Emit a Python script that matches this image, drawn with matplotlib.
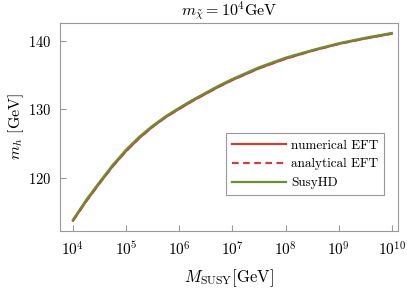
import matplotlib
matplotlib.use('Agg')
import matplotlib.pyplot as plt
import numpy as np

# log10 of M_SUSY in GeV
log_msusy = [4.0, 4.25, 4.5, 4.75, 5.0, 5.25, 5.5, 5.75, 6.0, 6.25, 6.5, 6.75,
             7.0, 7.5, 8.0, 8.5, 9.0, 9.5, 10.0]
# Higgs mass in GeV
mh_susyhd = [113.9, 116.8, 119.4, 121.9, 124.1, 126.0, 127.6, 129.0, 130.2, 131.35, 132.4, 133.45,
             134.4, 136.1, 137.5, 138.6, 139.6, 140.4, 141.1]
mh_numerical = [113.75, 116.6, 119.2, 121.7, 123.9, 125.8, 127.45, 128.85, 130.05, 131.2, 132.25, 133.3,
                134.25, 135.95, 137.35, 138.5, 139.5, 140.3, 141.0]
mh_analytical = [113.75, 116.6, 119.2, 121.7, 123.9, 125.8, 127.45, 128.85, 130.05, 131.2, 132.25, 133.3,
                 134.25, 135.95, 137.35, 138.5, 139.5, 140.3, 141.0]

plt.rcParams['font.family'] = 'serif'
plt.rcParams['font.serif'] = ['cmr10']
plt.rcParams['mathtext.fontset'] = 'cm'
plt.rcParams['axes.formatter.use_mathtext'] = True

red = '#c4443c'
green = '#6b8e35'
gray = '#999999'

fig = plt.figure(figsize=(4.07, 2.89), dpi=100)
ax = fig.add_axes([0.1474, 0.2017, 0.8296, 0.7198])

x = 10.0 ** np.array(log_msusy)
ax.plot(x, mh_numerical, color=red, lw=1.6, label='numerical EFT')
ax.plot(x, mh_analytical, color=red, lw=1.6, ls=(0, (3, 2)), label='analytical EFT')
ax.plot(x, mh_susyhd, color=green, lw=1.6, label='SusyHD')

ax.set_xscale('log')
ax.set_xlim(10 ** 3.756, 10 ** 10.11)
ax.set_ylim(112.3, 142.6)
ax.set_xticks([10.0 ** k for k in range(4, 11)])
ax.set_yticks([120, 130, 140])
ax.minorticks_off()

for s in ax.spines.values():
    s.set_color(gray)
ax.tick_params(direction='in', color=gray, length=4, labelsize=11, pad=6)
ax.tick_params(axis='y', labelsize=10.5)
ax.tick_params(axis='x', pad=7)

ax.set_title(r'$m_{\tilde{\chi}} = 10^4$GeV', fontsize=11.5, pad=5)
ax.set_xlabel(r'$M_{\rm SUSY}$[GeV]', fontsize=12, labelpad=6)
ax.set_ylabel(r'$m_h$ [GeV]', fontsize=11.5)
ax.yaxis.set_label_coords(-0.1, 0.5)

leg = ax.legend(loc='upper left', bbox_to_anchor=(0.4916, 0.468), borderaxespad=0,
                fontsize=9.5, handlelength=4.1, handletextpad=0.4,
                fancybox=False, framealpha=1, edgecolor=gray,
                borderpad=0.45, labelspacing=0.5)
leg.get_frame().set_linewidth(0.8)

fig.savefig('out.png', dpi=100)
